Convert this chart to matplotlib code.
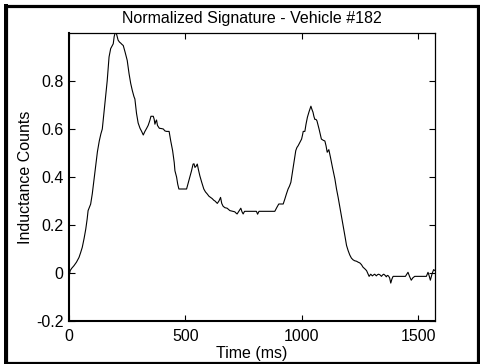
import matplotlib
matplotlib.use("Agg")
import matplotlib.pyplot as plt
from matplotlib.patches import Rectangle

plt.rcParams['font.family'] = ['Liberation Sans', 'DejaVu Sans']

# signature (time in ms, normalized counts)
time_ms = [0, 5, 12, 21, 32, 43, 50, 57, 65, 72, 78, 82, 88, 93, 100, 107, 115, 122,
           130, 137, 143, 150, 157, 164, 172, 179, 186, 190, 194, 198, 203, 207, 211,
           217, 222, 228, 233, 241, 250, 258, 265, 272, 279, 283, 290, 297, 305, 312,
           319, 326, 333, 340, 347, 352, 362, 366, 369, 373, 376, 380, 388, 396, 405,
           412, 419, 430, 437, 445, 452, 455, 462, 467, 472, 480, 490, 505, 512, 519,
           526, 533, 537, 541, 546, 551, 556, 562, 570, 579, 586, 594, 601, 608, 615,
           622, 627, 632, 637, 644, 651, 656, 662, 670, 679, 685, 691, 700, 712, 717,
           722, 730, 738, 743, 748, 754, 765, 780, 795, 805, 810, 816, 830, 850, 870,
           884, 892, 901, 912, 920, 927, 934, 941, 947, 953, 958, 963, 968, 974, 979,
           984, 992, 999, 1003, 1006, 1013, 1018, 1024, 1031, 1039, 1044, 1048, 1052,
           1056, 1061, 1065, 1070, 1074, 1079, 1084, 1092, 1099, 1104, 1109, 1116,
           1123, 1132, 1142, 1149, 1156, 1163, 1170, 1178, 1185, 1192, 1199, 1206,
           1213, 1220, 1227, 1235, 1242, 1249, 1256, 1263, 1270, 1278, 1285, 1289,
           1296, 1303, 1308, 1313, 1320, 1325, 1330, 1336, 1342, 1347, 1352, 1358,
           1363, 1367, 1372, 1377, 1382, 1387, 1392, 1410, 1430, 1445, 1451, 1456,
           1463, 1470, 1477, 1485, 1500, 1520, 1535, 1542, 1547, 1552, 1559, 1566, 1572]
counts = [-0.017, 0.01, 0.02, 0.03, 0.045, 0.065, 0.085, 0.107, 0.145, 0.183, 0.225,
          0.26, 0.275, 0.287, 0.33, 0.385, 0.45, 0.505, 0.55, 0.58, 0.6, 0.665, 0.733,
          0.8, 0.9, 0.935, 0.948, 0.955, 0.985, 1.0, 1.0, 0.985, 0.97, 0.962, 0.958,
          0.952, 0.948, 0.92, 0.886, 0.83, 0.79, 0.76, 0.735, 0.725, 0.665, 0.625,
          0.603, 0.59, 0.575, 0.59, 0.602, 0.615, 0.635, 0.653, 0.653, 0.64, 0.62,
          0.632, 0.6375, 0.615, 0.603, 0.602, 0.6, 0.592, 0.59, 0.59, 0.55, 0.51,
          0.46, 0.426, 0.40, 0.37, 0.35, 0.35, 0.35, 0.35, 0.375, 0.399, 0.425, 0.454,
          0.455, 0.44, 0.445, 0.454, 0.43, 0.405, 0.378, 0.35, 0.338, 0.329, 0.32,
          0.315, 0.31, 0.303, 0.3, 0.295, 0.29, 0.3, 0.315, 0.29, 0.278, 0.272, 0.27,
          0.265, 0.26, 0.258, 0.255, 0.25, 0.246, 0.258, 0.27, 0.255, 0.246, 0.257,
          0.257, 0.257, 0.257, 0.257, 0.245, 0.257, 0.257, 0.257, 0.257, 0.257, 0.272,
          0.2875, 0.2875, 0.2875, 0.308, 0.33, 0.35, 0.362, 0.378, 0.41, 0.44, 0.475,
          0.51, 0.523, 0.53, 0.545, 0.558, 0.575, 0.59, 0.59, 0.62, 0.649, 0.672,
          0.695, 0.68, 0.67, 0.652, 0.64, 0.64, 0.634, 0.615, 0.6, 0.578, 0.558,
          0.553, 0.55, 0.53, 0.503, 0.514, 0.482, 0.438, 0.392, 0.35, 0.315, 0.277,
          0.239, 0.195, 0.155, 0.115, 0.093, 0.075, 0.062, 0.055, 0.051, 0.049, 0.045,
          0.042, 0.035, 0.024, 0.018, 0.01, -0.005, -0.014, -0.005, -0.012, -0.008,
          -0.005, -0.012, -0.007, -0.005, -0.008, -0.014, -0.008, -0.005, -0.01,
          -0.016, -0.01, -0.012, -0.02, -0.042, -0.025, -0.014, -0.014, -0.014,
          -0.014, -0.005, 0.003, -0.015, -0.03, -0.02, -0.014, -0.014, -0.014, -0.014,
          0.003, -0.012, -0.03, -0.005, 0.014, 0.01]

x_ticks = [0, 500, 1000, 1500]
y_ticks = [-0.2, 0, 0.2, 0.4, 0.6, 0.8]
y_labels = ['-0.2', '0', '0.2', '0.4', '0.6', '0.8']

fs = 11.5

fig = plt.figure(figsize=(4.81, 3.64), dpi=100)
ax = fig.add_axes([69/481, 1-321/364, (435-69)/481, (321-33)/364])

ax.plot(time_ms, counts, color='black', linewidth=0.8)

ax.set_xlim(0, 1572)
ax.set_ylim(-0.2, 1.0)
ax.set_xticks(x_ticks)
ax.set_yticks(y_ticks)
ax.set_yticklabels(y_labels)
ax.tick_params(direction='in', top=True, right=True, length=4, width=0.8,
               labelsize=fs, colors='black')
ax.tick_params(axis='x', pad=6)
ax.tick_params(axis='y', pad=4)
for side in ['left', 'bottom']:
    ax.spines[side].set_linewidth(1.5)
for side in ['top', 'right']:
    ax.spines[side].set_linewidth(0.9)

ax.set_title("Normalized Signature - Vehicle #182", fontsize=fs, pad=7)
ax.set_xlabel("Time (ms)", fontsize=fs, labelpad=1)
ax.set_ylabel("Inductance Counts", fontsize=fs, labelpad=2)

# thick frame round the whole figure
fig.add_artist(Rectangle((6/481, 1-362.5/364), 472/481, 357/364, transform=fig.transFigure,
                         fill=False, edgecolor='black', linewidth=2.3, zorder=5))
fig.add_artist(Rectangle((4/481, 0), 4/481, 1-4/364, transform=fig.transFigure,
                         facecolor='black', edgecolor='none', zorder=5))

fig.savefig("out.png", dpi=100)
